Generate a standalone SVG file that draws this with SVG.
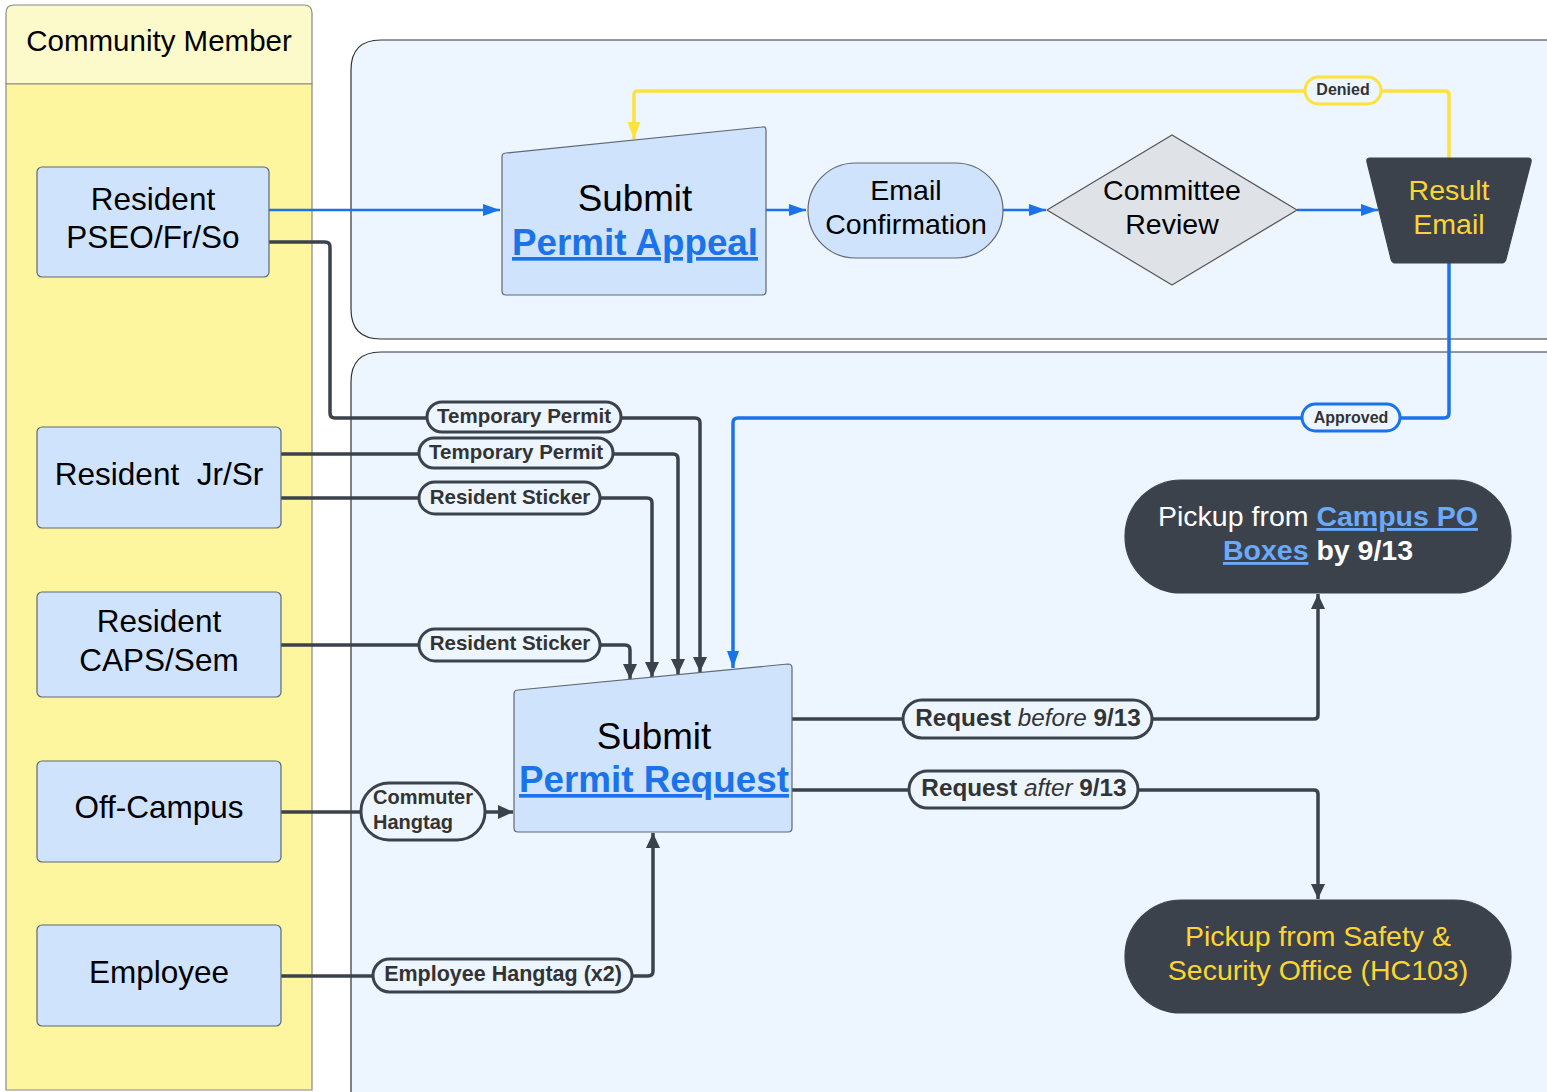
<svg xmlns="http://www.w3.org/2000/svg" width="1547" height="1092" viewBox="0 0 1547 1092">
<style>
text{font-family:"Liberation Sans",Arial,sans-serif;}
.node{fill:#cfe3fd;stroke:#5f6873;stroke-width:1.2;}
.dark{fill:#3b424c;stroke:#3b424c;stroke-width:1.2;}
.t31{font-size:31.5px;fill:#000;text-anchor:middle;}
.t28{font-size:28.5px;fill:#000;text-anchor:middle;}
.t36{font-size:36.8px;fill:#000;text-anchor:middle;}
.link{font-weight:bold;fill:#1a73e8;text-decoration:underline;}
.c-dk{fill:none;stroke:#3b424c;stroke-width:3.5;stroke-linejoin:round;}
.c-bl{fill:none;stroke:#1a73e8;stroke-width:2.5;stroke-linejoin:round;}
.c-bl2{fill:none;stroke:#1a73e8;stroke-width:3.5;stroke-linejoin:round;}
.c-ye{fill:none;stroke:#fde23b;stroke-width:3.5;stroke-linejoin:round;}
.pill{fill:#edf5ff;stroke:#3b424c;stroke-width:3;}
.pill-b{fill:#edf5ff;stroke:#1a73e8;stroke-width:3;}
.pill-y{fill:#edf5ff;stroke:#fde23b;stroke-width:3;}
.lbl{font-size:20.5px;font-weight:bold;fill:#333;text-anchor:middle;}
.lbl16{font-size:16px;font-weight:bold;fill:#333;text-anchor:middle;}
</style>
<defs>
<marker id="ad" markerUnits="userSpaceOnUse" markerWidth="16" markerHeight="14" refX="15" refY="7" orient="auto"><path d="M0,0 L15,7 L0,14 z" fill="#3b424c"/></marker>
<marker id="ab" markerUnits="userSpaceOnUse" markerWidth="18" markerHeight="14" refX="17" refY="6" orient="auto"><path d="M0,0 L17,6 L0,12 z" fill="#1a73e8"/></marker>
<marker id="ay" markerUnits="userSpaceOnUse" markerWidth="18" markerHeight="14" refX="17" refY="6.5" orient="auto"><path d="M0,0 L17,6.5 L0,13 z" fill="#fde23b"/></marker>
</defs>
<rect width="1547" height="1092" fill="#ffffff"/>

<g id="lane">
<path d="M6,84 V13 Q6,5 14,5 H304 Q312,5 312,13 V84 Z" fill="#fcfacb" stroke="#888" stroke-width="1.2"/>
<path d="M6,84 H312 V1090 H6 Z" fill="#fef59f" stroke="#888" stroke-width="1.2"/>
<text x="159" y="51" class="t28" style="font-size:29.5px">Community Member</text>
</g>

<g id="container-appeal"><path d="M1600,40 H381 Q351,40 351,70 V309 Q351,339 381,339 H1600 Z" fill="#edf5ff" stroke="#333" stroke-width="1.2"/></g>
<g id="container-request"><path d="M1600,352 H381 Q351,352 351,382 V1150 H1600 Z" fill="#edf5ff" stroke="#333" stroke-width="1.2"/></g>

<g id="connectors">
<path class="c-bl" d="M269,210 H500" marker-end="url(#ab)"/>
<path class="c-bl" d="M766,210 H806" marker-end="url(#ab)"/>
<path class="c-bl" d="M1003,210 H1046" marker-end="url(#ab)"/>
<path class="c-bl" d="M1297,210 H1378" marker-end="url(#ab)"/>
<path class="c-ye" d="M1449,158 V95 Q1449,91 1445,91 H638 Q634,91 634,95 V139" marker-end="url(#ay)"/>
<path class="c-bl2" d="M1449,263 V413 Q1449,418 1444,418 H738 Q733,418 733,423 V668" marker-end="url(#ab)"/>
<path class="c-dk" d="M269,242 H325 Q330,242 330,247 V413 Q330,418 335,418 H695 Q700,418 700,423 V672" marker-end="url(#ad)"/>
<path class="c-dk" d="M281,454 H673 Q678,454 678,459 V674" marker-end="url(#ad)"/>
<path class="c-dk" d="M281,498 H647 Q652,498 652,503 V677" marker-end="url(#ad)"/>
<path class="c-dk" d="M281,645 H625 Q630,645 630,650 V679" marker-end="url(#ad)"/>
<path class="c-dk" d="M281,812 H513" marker-end="url(#ad)"/>
<path class="c-dk" d="M281,976 H648 Q653,976 653,971 V833" marker-end="url(#ad)"/>
<path class="c-dk" d="M792,719 H1314 Q1318,719 1318,715 V594" marker-end="url(#ad)" stroke-width="3"/>
<path class="c-dk" d="M792,790 H1314 Q1318,790 1318,794 V899" marker-end="url(#ad)" stroke-width="3"/>

<rect class="pill-y" x="1305" y="77" width="76" height="27" rx="13.5"/>
<text class="lbl16" x="1343" y="95">Denied</text>
<rect class="pill-b" x="1302" y="404" width="98" height="27" rx="13.5"/>
<text class="lbl16" x="1351" y="423">Approved</text>
<rect class="pill" x="427" y="402" width="194" height="30" rx="15"/>
<text class="lbl" x="524" y="423">Temporary Permit</text>
<rect class="pill" x="419" y="438" width="194" height="30" rx="15"/>
<text class="lbl" x="516" y="459">Temporary Permit</text>
<rect class="pill" x="419" y="482" width="181" height="32" rx="16"/>
<text class="lbl" x="510" y="504">Resident Sticker</text>
<rect class="pill" x="419" y="629" width="181" height="32" rx="16"/>
<text class="lbl" x="510" y="650">Resident Sticker</text>
<rect class="pill" x="361" y="783" width="124" height="57" rx="28"/>
<text class="lbl" x="373" y="804" style="text-anchor:start;font-size:20px">Commuter</text>
<text class="lbl" x="373" y="829" style="text-anchor:start;font-size:20px">Hangtag</text>
<rect class="pill" x="373" y="959" width="259" height="33" rx="16.5"/>
<text class="lbl" x="503" y="981" style="font-size:21.5px">Employee Hangtag (x2)</text>
<rect class="pill" x="903" y="700" width="249" height="38" rx="19"/>
<text class="lbl" x="1028" y="726" style="font-size:24.3px">Request<tspan font-style="italic" font-weight="normal"> before </tspan>9/13</text>
<rect class="pill" x="909" y="771" width="229" height="37" rx="18.5"/>
<text class="lbl" x="1024" y="796" style="font-size:24.3px">Request<tspan font-style="italic" font-weight="normal"> after </tspan>9/13</text>
</g>

<g id="n-pseo"><rect class="node" x="37" y="167" width="232" height="110" rx="5"/>
<text class="t31" x="153" y="210">Resident</text><text class="t31" x="153" y="248">PSEO/Fr/So</text></g>
<g id="n-jrsr"><rect class="node" x="37" y="427" width="244" height="101" rx="5"/>
<text class="t31" x="159" y="485">Resident&#160; Jr/Sr</text></g>
<g id="n-caps"><rect class="node" x="37" y="592" width="244" height="105" rx="5"/>
<text class="t31" x="159" y="632">Resident</text><text class="t31" x="159" y="671">CAPS/Sem</text></g>
<g id="n-off"><rect class="node" x="37" y="761" width="244" height="101" rx="5"/>
<text class="t31" x="159" y="818">Off-Campus</text></g>
<g id="n-emp"><rect class="node" x="37" y="925" width="244" height="101" rx="5"/>
<text class="t31" x="159" y="983">Employee</text></g>

<g id="n-appeal"><path class="node" d="M506,153 L762,127 Q766,126 766,130 V291 Q766,295 762,295 H506 Q502,295 502,291 V157 Q502,153 506,153 Z"/>
<text class="t36" x="635" y="211">Submit</text>
<text class="t36 link" x="635" y="255">Permit Appeal</text></g>
<g id="n-email"><rect class="node" x="808" y="163" width="195" height="95" rx="47.5"/>
<text class="t28" x="906" y="200">Email</text><text class="t28" x="906" y="234">Confirmation</text></g>
<g id="n-review"><path d="M1047,210 L1172,135 L1297,210 L1172,285 Z" fill="#dfe3e8" stroke="#555" stroke-width="1.2" stroke-linejoin="round"/>
<text class="t28" x="1172" y="200">Committee</text><text class="t28" x="1172" y="234">Review</text></g>
<g id="n-result"><path class="dark" d="M1370,158 H1528 Q1532,158 1531,162 L1506,259 Q1505,263 1501,263 H1396 Q1392,263 1391,259 L1367,162 Q1366,158 1370,158 Z"/>
<text class="t28" x="1449" y="200" style="fill:#fcd535">Result</text><text class="t28" x="1449" y="234" style="fill:#fcd535">Email</text></g>

<g id="n-request"><path class="node" d="M518,690 L788,664 Q792,664 792,668 V828 Q792,832 788,832 H518 Q514,832 514,828 V694 Q514,690 518,690 Z"/>
<text class="t36" x="654" y="749">Submit</text>
<text class="t36 link" x="654" y="792">Permit Request</text></g>

<g id="n-pobox"><rect class="dark" x="1125" y="480" width="386" height="113" rx="56.5"/>
<text x="1318" y="526" style="font-size:28.5px;fill:#fff;text-anchor:middle">Pickup from <tspan font-weight="bold" fill="#6aaaf8" text-decoration="underline">Campus PO</tspan></text>
<text x="1318" y="560" style="font-size:28.5px;fill:#fff;text-anchor:middle;font-weight:bold"><tspan fill="#6aaaf8" text-decoration="underline">Boxes</tspan> by 9/13</text></g>
<g id="n-safety"><rect class="dark" x="1125" y="900" width="386" height="113" rx="56.5"/>
<text x="1318" y="946" style="font-size:28.5px;fill:#fcd535;text-anchor:middle">Pickup from Safety &amp;</text>
<text x="1318" y="980" style="font-size:28.5px;fill:#fcd535;text-anchor:middle">Security Office (HC103)</text></g>
</svg>
